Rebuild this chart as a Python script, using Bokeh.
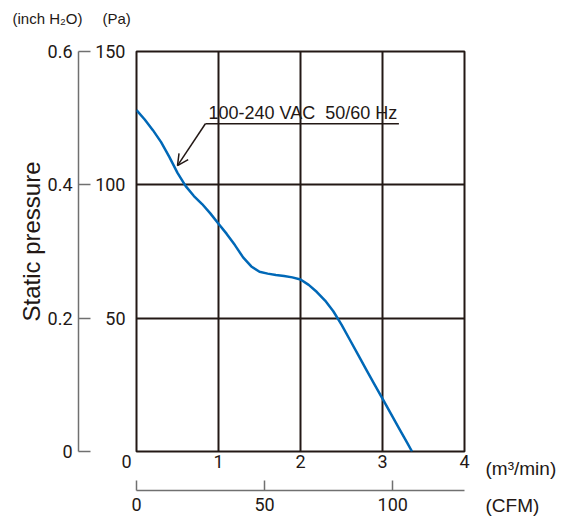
from bokeh.plotting import figure
from bokeh.models import Range1d, LinearAxis, FixedTicker, Label, Arrow, OpenHead
from bokeh.embed import file_html
from bokeh.resources import INLINE

# ---- data ----
flow_m3min = [0, 0.1, 0.2, 0.3, 0.4, 0.5, 0.6, 0.7, 0.8, 0.9, 1.0, 1.1, 1.2, 1.3, 1.4,
              1.5, 1.6, 1.7, 1.8, 1.9, 2.0, 2.1, 2.2, 2.3, 2.4, 2.5, 2.6, 2.7, 2.8,
              2.9, 3.0, 3.1, 3.2, 3.3, 3.36]
pressure_pa = [128, 124.5, 120.5, 116, 110.5, 104.5, 99.5, 95.8, 92.8, 89.3, 85.4, 81.6,
               77.4, 72.8, 69.4, 67.4, 66.7, 66.2, 65.8, 65.3, 64.5, 62.5, 59.8, 56.6,
               52.6, 47.6, 42.0, 36.4, 30.8, 25.3, 19.8, 14.3, 8.8, 3.3, 0]
m3_ticks = [1, 2, 3, 4]
pa_ticks = [50, 100, 150]
inch_ticks = [0, 0.2, 0.4, 0.6]
cfm_ticks = [0, 50, 100]
m3_max = 4
pa_max = 150
inch_max = 0.6
cfm_max = 128
series_label = "100-240 VAC\u00a0 50/60 Hz"

DARK = "#231815"
GRAY = "#707070"
BLUE = "#0068b7"
TICKF = "Roboto"
SANS = "Liberation Sans"

p = figure(width=566, height=519, x_range=Range1d(0, m3_max), y_range=Range1d(0, pa_max),
           output_backend="svg", toolbar_location=None,
           min_border_left=136, min_border_right=102, min_border_top=51, min_border_bottom=68)
p.background_fill_color = None
p.border_fill_color = "white"
p.outline_line_color = DARK
p.outline_line_width = 2

p.extra_y_ranges = {"inch": Range1d(0, inch_max)}
p.extra_x_ranges = {"cfm": Range1d(0, cfm_max)}

# grids
p.xgrid[0].ticker = FixedTicker(ticks=m3_ticks)
p.ygrid[0].ticker = FixedTicker(ticks=pa_ticks)
for g in (p.xgrid[0], p.ygrid[0]):
    g.grid_line_color = DARK
    g.grid_line_width = 2

def style_labels(ax, font=TICKF, size="18px"):
    ax.major_label_text_font = font
    ax.major_label_text_font_size = size
    ax.major_label_text_color = DARK

# Pa axis (labels only)
ya = p.yaxis[0]
ya.ticker = FixedTicker(ticks=pa_ticks)
ya.axis_line_color = None
ya.major_tick_line_color = None
ya.minor_tick_line_color = None
ya.major_tick_out = 0
ya.major_tick_in = 0
ya.major_label_standoff = 11
style_labels(ya)
ya.axis_label = " "
ya.axis_label_text_font_size = "1px"
ya.axis_label_standoff = 10

# m3/min axis (labels only)
xa = p.xaxis[0]
xa.ticker = FixedTicker(ticks=m3_ticks)
xa.axis_line_color = None
xa.major_tick_line_color = None
xa.minor_tick_line_color = None
xa.major_tick_out = 0
xa.major_tick_in = 0
xa.major_label_standoff = 3
style_labels(xa)
xa.axis_label = " "
xa.axis_label_text_font_size = "1px"
xa.axis_label_standoff = 16

# inch H2O axis
ia = LinearAxis(y_range_name="inch", ticker=FixedTicker(ticks=inch_ticks), bounds=(0, inch_max))
ia.axis_line_color = GRAY
ia.axis_line_width = 1.5
ia.major_tick_line_color = GRAY
ia.major_tick_line_width = 1.5
ia.major_tick_in = 12
ia.major_tick_out = 0
ia.minor_tick_line_color = None
ia.major_label_standoff = 6
style_labels(ia)
ia.axis_label = "\u00a0\u00a0\u00a0Static pressure"
ia.axis_label_text_font = SANS
ia.axis_label_text_font_size = "24px"
ia.axis_label_text_font_style = "normal"
ia.axis_label_text_color = DARK
ia.axis_label_standoff = 0
p.add_layout(ia, "left")

# CFM axis
ca = LinearAxis(x_range_name="cfm", ticker=FixedTicker(ticks=cfm_ticks))
ca.axis_line_color = GRAY
ca.axis_line_width = 1.5
ca.major_tick_line_color = GRAY
ca.major_tick_line_width = 1.5
ca.major_tick_in = 10
ca.major_tick_out = 0
ca.minor_tick_line_color = None
ca.major_label_standoff = 7
style_labels(ca)
p.add_layout(ca, "below")

# curve
p.line(flow_m3min, pressure_pa, line_color=BLUE, line_width=2.5, line_join="round")

# callout
p.add_layout(Arrow(end=OpenHead(size=11, line_color=DARK, line_width=1.5),
                   x_start=0.84, y_start=122.9, x_end=0.50, y_end=107.2,
                   line_color=DARK, line_width=1.5))
p.segment(x0=[0.84], y0=[122.9], x1=[3.2], y1=[122.9], line_color=DARK, line_width=1.5)
p.add_layout(Label(x=0.878, y=127.1, text=series_label, text_font=SANS,
                   text_font_size="18px", text_color=DARK, text_baseline="middle"))

# texts outside the frame (placed in side panels so they are not clipped)
def txt(text, x, y, dx, dy, size="18px", font=TICKF, align="left"):
    return Label(x=x, y=y, x_offset=dx, y_offset=dy, text=text, text_font=font,
                 text_font_size=size, text_color=DARK, text_align=align,
                 text_baseline="middle")

p.add_layout(txt("0", 0, 0, -10, -10, align="center"), "left")
p.add_layout(txt("(m³/min)", m3_max, 0, 21, -17, size="19px", font=SANS), "right")
p.add_layout(txt("(Pa)", 0, pa_max, -34, 33, size="15px", font=SANS), "right")
p.add_layout(txt("(inch H₂O)", 0, pa_max, -124, 33, size="15px", font=SANS), "above")
p.add_layout(txt("(CFM)", m3_max, 0, 21, -54, size="19px", font=SANS), "above")

open("out.html", "w").write(file_html(p, INLINE))
